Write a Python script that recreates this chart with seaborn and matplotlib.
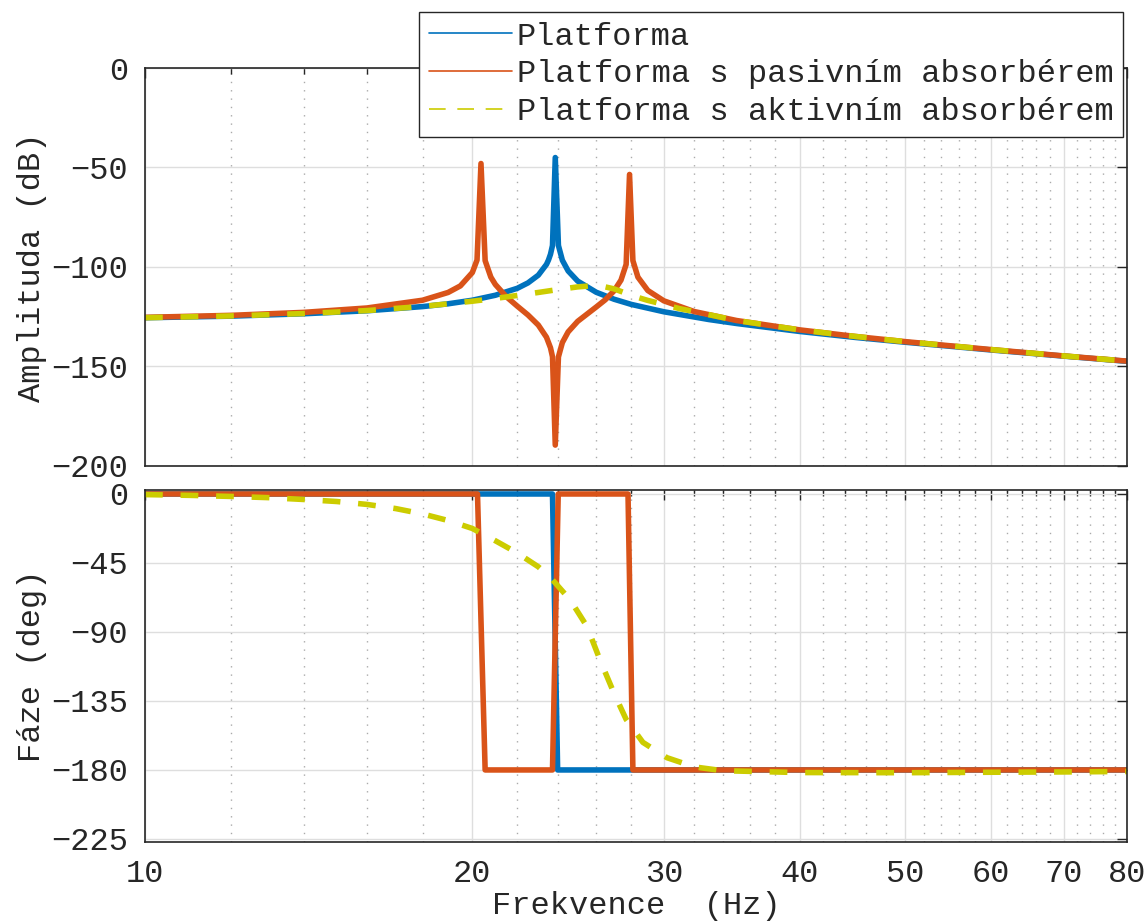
import numpy as np
import matplotlib
matplotlib.use("Agg")
import matplotlib.pyplot as plt
from matplotlib.lines import Line2D
from matplotlib.ticker import NullFormatter
import seaborn as sns

# amplitude (dB)
f_plat = [10, 12, 14, 16, 18, 19, 20, 21, 22, 22.5, 23, 23.4, 23.5, 23.6, 23.7, 23.84,
          24.0, 24.2, 24.5, 25, 26, 27, 28, 30, 33, 35, 40, 45, 50, 60, 70, 80]
amp_plat = [-125.5, -124.7, -123.5, -122.0, -119.9, -118.5, -116.7, -114.2, -110.7, -108.0,
            -104.1, -98.7, -96.5, -93.6, -89.2, -45.0, -89.2, -96.6, -102.0, -107.1, -112.7,
            -116.2, -118.8, -122.5, -126.4, -128.4, -132.4, -135.4, -137.8, -141.7, -144.8, -147.4]

f_pas = [10, 12, 14, 16, 18, 19, 19.5, 20, 20.2, 20.37, 20.55, 20.8, 21, 21.5, 22, 22.5, 23,
         23.4, 23.6, 23.7, 23.84, 24.0, 24.2, 24.5, 25, 26, 26.5, 27, 27.4, 27.7, 27.9, 28.1,
         28.4, 29, 30, 32, 35, 40, 45, 50, 60, 70, 80]
amp_pas = [-125.3, -124.3, -122.8, -120.6, -116.7, -112.8, -109.5, -102.8, -96.5, -48.0, -96.8,
           -105.1, -108.8, -115.0, -119.7, -124.1, -129.2, -135.3, -140.6, -145.1, -189.5, -145.2,
           -138.0, -132.6, -127.3, -120.1, -116.5, -112.0, -106.6, -98.7, -53.5, -96.8, -105.1,
           -111.8, -117.0, -122.4, -126.9, -131.6, -134.9, -137.5, -141.5, -144.7, -147.3]

f_akt = [10, 12, 14, 16, 18, 19, 20, 21, 22, 23, 24, 25, 25.8, 26.5, 27, 27.5, 28, 29, 30,
         31, 32, 35, 40, 45, 50, 60, 70, 80]
amp_akt = [-125.5, -124.6, -123.4, -121.9, -119.8, -118.5, -117.2, -115.8, -114.3, -112.8,
           -111.3, -110.0, -109.4, -110.0, -111.0, -112.6, -114.3, -116.8, -118.8, -120.9,
           -122.4, -126.9, -131.6, -134.9, -137.5, -141.5, -144.7, -147.3]

# phase (deg)
fph_plat = [10, 23.7, 23.96, 80]
ph_plat = [0, 0, -180, -180]
fph_pas = [10, 20.22, 20.55, 23.7, 23.99, 27.81, 28.1, 80]
ph_pas = [0, 0, -180, -180, 0, 0, -180, -180]
fph_akt = [10, 11, 12, 13, 14, 15, 16, 17, 18, 19, 20, 21, 22, 23, 23.6, 24.6, 25.5, 26.2,
           27, 27.7, 28.7, 30.2, 32, 34, 40, 50, 60, 70, 80]
ph_akt = [-0.4, -0.9, -1.6, -2.4, -3.6, -4.9, -6.8, -9.5, -13.0, -17.3, -22.5, -30.5, -38.5,
          -47.5, -54.5, -69, -86.5, -108, -130, -147, -162, -172, -178, -180.5, -181.7,
          -181.8, -181.5, -181.3, -181.0]

labels = ["Platforma", "Platforma s pasivním absorbérem", "Platforma s aktivním absorbérem"]
colors = ["#0072BD", "#D95319", "#CCCC00"]

xticks = [10, 20, 30, 40, 50, 60, 70, 80]
xminor = [12, 14, 16, 18, 22, 24, 26, 28, 32, 34, 36, 38, 42, 44, 46, 48,
          52, 54, 56, 58, 62, 64, 66, 68, 72, 74, 76, 78]
amp_ticks = [0, -50, -100, -150, -200]
ph_ticks = [0, -45, -90, -135, -180, -225]

sns.set_style("white")
plt.rcParams["font.family"] = ["Liberation Mono", "DejaVu Sans Mono"]
plt.rcParams["font.size"] = 23
plt.rcParams["text.color"] = "#262626"
plt.rcParams["axes.labelcolor"] = "#262626"
plt.rcParams["xtick.color"] = "#262626"
plt.rcParams["ytick.color"] = "#262626"

fig = plt.figure(figsize=(11.48, 9.24), dpi=100)
ax1 = fig.add_axes([0.1263, 0.4957, 0.8554, 0.4307])
ax2 = fig.add_axes([0.1263, 0.0884, 0.8554, 0.3813])

lw = 4
for f, a, c in [(f_plat, amp_plat, colors[0]), (f_pas, amp_pas, colors[1])]:
    sns.lineplot(x=f, y=a, ax=ax1, color=c, linewidth=lw, estimator=None, sort=False, legend=False)
sns.lineplot(x=f_akt, y=amp_akt, ax=ax1, color=colors[2], linewidth=lw, estimator=None,
             sort=False, legend=False, linestyle=(0, (3.2, 3.2)))

for f, p, c in [(fph_plat, ph_plat, colors[0]), (fph_pas, ph_pas, colors[1])]:
    sns.lineplot(x=f, y=p, ax=ax2, color=c, linewidth=lw, estimator=None, sort=False, legend=False)
sns.lineplot(x=fph_akt, y=ph_akt, ax=ax2, color=colors[2], linewidth=lw, estimator=None,
             sort=False, legend=False, linestyle=(0, (3.2, 3.2)))

for ax in (ax1, ax2):
    ax.lines[-1].set_dash_capstyle("butt")
    ax.set_xscale("log")
    ax.set_xlim(10, 80)
    ax.set_xticks(xticks)
    ax.set_xticks(xminor, minor=True)
    ax.xaxis.set_minor_formatter(NullFormatter())
    ax.grid(True, which="major", color="#dedede", linewidth=1.0, linestyle="-")
    ax.grid(True, which="minor", axis="x", color="#aaaaaa", linewidth=1.0, linestyle=(0, (1, 5)))
    ax.set_axisbelow(True)
    ax.tick_params(which="both", direction="in", top=True, right=True, width=1.0)
    ax.tick_params(which="major", length=7, pad=12)
    ax.tick_params(which="minor", length=4.5)
    for s in ax.spines.values():
        s.set_color("#262626")
        s.set_linewidth(1.2)

ax1.set_ylim(-200, 0)
ax1.set_yticks(amp_ticks)
ax1.set_xticklabels([])
ax1.set_ylabel("Amplituda (dB)")
ax1.yaxis.set_label_coords(-0.100, 0.5)

ax2.set_ylim(-227.2, 2.6)
ax2.set_yticks(ph_ticks)
ax2.set_xticklabels([str(t) for t in xticks])
ax2.set_ylabel("Fáze (deg)")
ax2.yaxis.set_label_coords(-0.100, 0.5)
ax2.set_xlabel("Frekvence  (Hz)")
ax2.xaxis.set_label_coords(0.5, -0.137)

handles = [Line2D([], [], color=colors[0], linewidth=1.2),
           Line2D([], [], color=colors[1], linewidth=1.2),
           Line2D([], [], color=colors[2], linewidth=1.2, linestyle=(0, (10, 7)))]
leg = fig.legend(handles, labels, loc="upper right", bbox_to_anchor=(1123 / 1148, 1 - 12 / 924),
                 frameon=True, fancybox=False, framealpha=1, edgecolor="#262626",
                 handlelength=2.6, handletextpad=0.15, borderpad=0.3, labelspacing=0.24,
                 borderaxespad=0, fontsize=23)
leg.get_frame().set_linewidth(1.0)

fig.savefig("out.png", dpi=100)
